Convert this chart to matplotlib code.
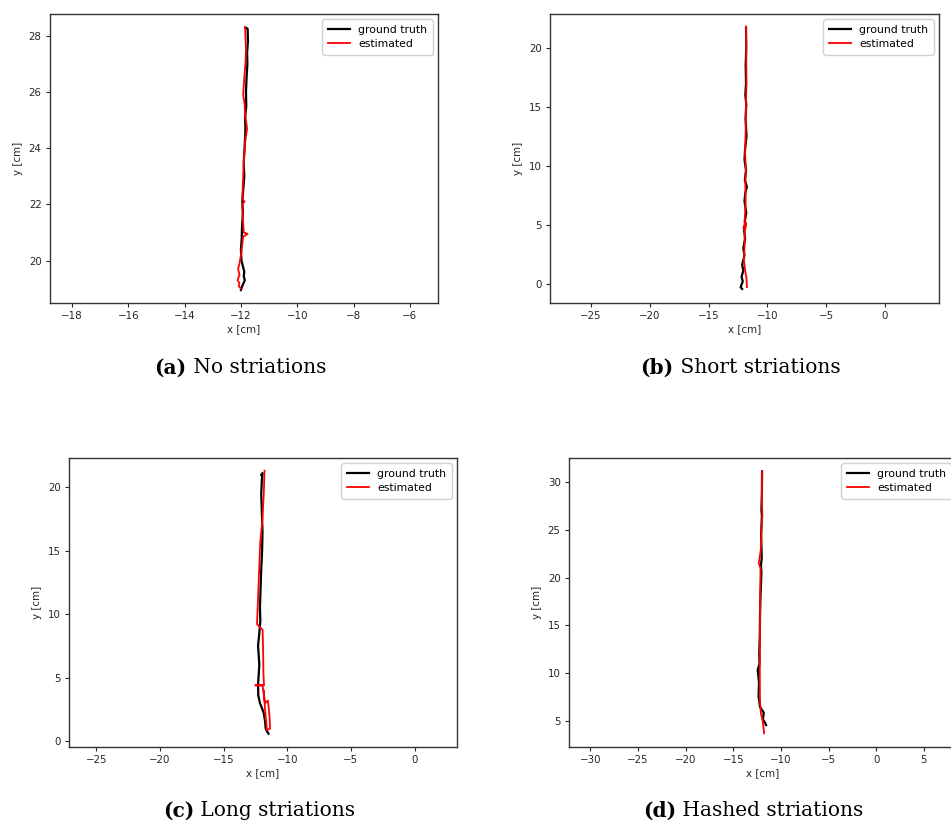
import matplotlib
matplotlib.use("Agg")
import matplotlib.pyplot as plt

# ---------------- data ----------------
# (a) No striations
gt_a_x = [-11.85, -11.80, -11.76, -11.75, -11.78, -11.77, -11.80, -11.82, -11.81, -11.85, -11.84,
          -11.87, -11.90, -11.88, -11.92, -11.95, -11.93, -11.96, -11.97, -12.00, -11.98, -11.93,
          -11.88, -11.90, -11.86, -11.95, -12.00]
gt_a_y = [28.30, 28.28, 28.25, 27.80, 27.40, 27.00, 26.50, 26.00, 25.50, 25.10, 24.60,
          24.00, 23.50, 23.00, 22.50, 22.10, 21.70, 21.20, 20.80, 20.40, 20.00, 19.80,
          19.60, 19.45, 19.30, 19.10, 18.95]
est_a_x = [-11.85, -11.82, -11.84, -11.88, -11.92, -11.87, -11.85, -11.78, -11.84, -11.88, -11.92,
           -11.95, -11.87, -11.95, -11.93, -11.90, -11.76, -11.92, -11.98, -12.05, -12.10, -12.05,
           -12.12, -12.05, -12.08, -12.00]
est_a_y = [28.30, 27.50, 27.00, 26.50, 25.90, 25.60, 25.20, 24.70, 24.30, 23.80, 23.00,
           22.20, 22.10, 22.00, 21.50, 21.00, 20.95, 20.85, 20.30, 19.90, 19.70, 19.50,
           19.30, 19.20, 19.10, 19.00]

# (b) Short striations
gt_b_x = [-11.82, -11.80, -11.85, -11.82, -11.88, -11.80, -11.86, -11.78, -11.90, -11.95, -11.82,
          -11.92, -11.75, -11.88, -11.95, -11.80, -11.92, -11.85, -11.98, -11.90, -12.05, -11.95,
          -12.15, -12.05, -12.20, -12.10, -12.28, -12.15]
gt_b_y = [21.70, 20.00, 18.50, 17.00, 16.00, 15.20, 14.00, 12.50, 11.40, 10.50, 9.60,
          8.80, 8.20, 7.70, 7.00, 6.00, 5.30, 5.00, 4.50, 3.80, 3.00, 2.40,
          1.60, 1.10, 0.60, 0.20, -0.30, -0.45]
est_b_x = [-11.82, -11.80, -11.78, -11.82, -11.85, -11.90, -11.83, -11.88, -11.85, -11.95, -12.05,
           -11.80, -11.92, -11.95, -12.00, -11.88, -11.78, -11.75]
est_b_y = [21.80, 19.00, 17.00, 15.50, 13.00, 11.00, 9.70, 8.50, 7.00, 5.00, 4.70,
           5.10, 4.50, 3.00, 2.00, 1.00, 0.50, -0.30]

# (c) Long striations
gt_c_x = [-12.05, -11.95, -12.00, -12.05, -12.00, -11.95, -11.98, -12.05, -12.10, -12.15, -12.12,
          -12.20, -12.30, -12.25, -12.20, -12.25, -12.30, -12.28, -12.15, -11.95, -11.85, -11.75,
          -11.70, -11.60, -11.48]
gt_c_y = [20.95, 21.10, 20.50, 19.50, 18.00, 16.50, 15.00, 13.50, 12.00, 10.50, 9.50,
          8.50, 7.50, 6.80, 6.00, 5.20, 4.50, 3.60, 3.00, 2.50, 2.20, 1.60,
          1.00, 0.80, 0.60]
est_c_x = [-11.79, -11.85, -11.95, -12.13, -12.25, -12.38, -11.94, -11.90, -11.88, -11.85, -11.83,
           -12.50, -11.95, -11.75, -11.52, -11.40, -11.35, -11.60, -11.75, -11.85]
est_c_y = [21.28, 19.50, 17.50, 15.60, 12.50, 9.21, 8.76, 7.00, 5.50, 4.80, 4.40,
           4.40, 4.40, 3.00, 3.20, 2.00, 1.00, 0.90, 2.50, 4.00]

# (d) Hashed striations
gt_d_x = [-11.98, -12.00, -12.05, -12.00, -12.08, -12.02, -12.10, -12.05, -12.15, -12.20, -12.22,
          -12.28, -12.25, -12.44, -12.30, -12.35, -12.20, -11.95, -11.80, -11.90, -11.70, -11.56]
gt_d_y = [31.08, 29.00, 27.00, 26.50, 24.50, 22.00, 21.30, 20.50, 18.00, 16.00, 14.00,
          12.00, 11.00, 10.35, 9.00, 7.60, 6.50, 6.10, 5.90, 5.20, 4.90, 4.60]
est_d_x = [-11.98, -12.00, -11.95, -12.05, -12.10, -12.33, -12.15, -12.18, -12.20, -12.22, -12.22,
           -12.20, -12.10, -11.95, -11.85, -11.77]
est_d_y = [31.10, 28.00, 26.50, 25.00, 23.00, 21.50, 21.00, 18.00, 15.00, 12.00, 9.00,
           7.00, 5.80, 5.20, 4.50, 3.74]

panels = [
    dict(gx=gt_a_x, gy=gt_a_y, ex=est_a_x, ey=est_a_y, xlim=(-18.78, -5.0), ylim=(18.49, 28.78),
         xticks=[-18, -16, -14, -12, -10, -8, -6], yticks=[20, 22, 24, 26, 28],
         rect=[50, 14, 438, 303], label="(a)", title=" No striations", cap=(238, 367.5)),
    dict(gx=gt_b_x, gy=gt_b_y, ex=est_b_x, ey=est_b_y, xlim=(-28.49, 4.59), ylim=(-1.64, 22.86),
         xticks=[-25, -20, -15, -10, -5, 0], yticks=[0, 5, 10, 15, 20],
         rect=[550, 14, 939, 303], label="(b)", title=" Short striations", cap=(738, 367.5)),
    dict(gx=gt_c_x, gy=gt_c_y, ex=est_c_x, ey=est_c_y, xlim=(-27.15, 3.33), ylim=(-0.45, 22.28),
         xticks=[-25, -20, -15, -10, -5, 0], yticks=[0, 5, 10, 15, 20],
         rect=[69, 458, 457, 747], label="(c)", title=" Long striations", cap=(257, 811)),
    dict(gx=gt_d_x, gy=gt_d_y, ex=est_d_x, ey=est_d_y, xlim=(-32.24, 8.47), ylim=(2.31, 32.48),
         xticks=[-30, -25, -20, -15, -10, -5, 0, 5], yticks=[5, 10, 15, 20, 25, 30],
         rect=[569, 458, 957, 747], label="(d)", title=" Hashed striations", cap=(751, 811)),
]

W, H = 951, 825
fig = plt.figure(figsize=(W / 100, H / 100), dpi=100)
fs = 7.4
lfs = 7.8
cfs = 14.5
txtc = "#262626"

for p in panels:
    l, t, r, b = p["rect"]
    ax = fig.add_axes([l / W, 1 - b / H, (r - l) / W, (b - t) / H])
    ax.plot(p["gx"], p["gy"], color="black", lw=1.6, label="ground truth")
    ax.plot(p["ex"], p["ey"], color="red", lw=1.3, label="estimated")
    ax.set_xlim(*p["xlim"])
    ax.set_ylim(*p["ylim"])
    ax.set_xticks(p["xticks"])
    ax.set_yticks(p["yticks"])
    ax.tick_params(labelsize=fs, length=3, width=0.8, colors=txtc, pad=3)
    ax.set_xlabel("x [cm]", fontsize=fs, color=txtc, labelpad=2)
    ax.set_ylabel("y [cm]", fontsize=fs, color=txtc, labelpad=4)
    for s in ax.spines.values():
        s.set_color("#333333")
        s.set_linewidth(1.0)
    ax.legend(loc="upper right", fontsize=lfs, frameon=True, framealpha=0.9,
              edgecolor="#cccccc", handlelength=2.0, borderpad=0.5, labelspacing=0.4)
    cx, cy = p["cap"]
    t1 = fig.text(cx / W, 1 - cy / H, p["label"] + p["title"], fontsize=cfs,
                  family="DejaVu Serif", ha="center", va="center", color="black", alpha=0)
    fig.canvas.draw()
    rend = fig.canvas.get_renderer()
    bb = t1.get_window_extent(rend)
    x0 = bb.x0
    tl = fig.text(x0 / W, 1 - cy / H, p["label"], fontsize=cfs, family="DejaVu Serif",
                  fontweight="bold", ha="left", va="center", color="black")
    bbl = tl.get_window_extent(rend)
    fig.text(bbl.x1 / W, 1 - cy / H, p["title"], fontsize=cfs, family="DejaVu Serif",
             ha="left", va="center", color="black")

fig.savefig("out.png", dpi=100)
